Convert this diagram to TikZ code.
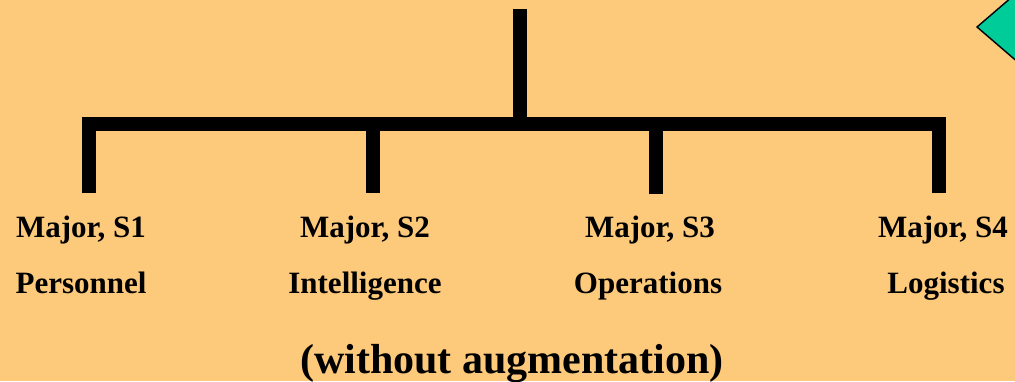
\documentclass[tikz,border=0pt]{standalone}
\usepackage{fontspec}
\setmainfont{Liberation Serif}
\newfontfamily\orgfont{Liberation Serif}[BoldFont={Liberation Serif Bold}]
\usepackage{xcolor}
\usetikzlibrary{positioning}
\definecolor{OrgPeach}{RGB}{253,201,122}
\definecolor{OrgGreen}{RGB}{0,204,153}

\begin{document}
\begin{tikzpicture}[x=1pt, y=-1pt,
          lbl/.style={anchor=base, inner sep=0pt,
                      font=\orgfont\fontsize{31}{37}\selectfont\bfseries},
          ln/.style={draw=black, line width=14pt, line cap=butt,
                     line join=miter}
        ]
        % background
        \fill[OrgPeach] (0,0) rectangle (1015,381);
        \useasboundingbox (0,0) rectangle (1015,381);

        % corner marker
        \begin{scope}
          \clip (0,0) rectangle (1015,381);
          \draw[fill=OrgGreen, line width=1.4pt]
                (977,27) -- (1027,-16) -- (1077,27) -- (1027,70) -- cycle;
        \end{scope}

        % staff officers
        \node[lbl] (s1)  at (81, 237)  {Major, S1};
        \node[lbl] (p1)  at (81, 293)  {Personnel};
        \node[lbl] (s2)  at (365, 237) {Major, S2};
        \node[lbl] (p2)  at (365, 293) {Intelligence};
        \node[lbl] (s3)  at (650, 237) {Major, S3};
        \node[lbl] (p3)  at (648, 293) {Operations};
        \node[lbl] (s4)  at (943, 237) {Major, S4};
        \node[lbl] (p4)  at (946, 293) {Logistics};

        % tree
        \coordinate (top) at (519.5, 9);
        \coordinate (hub) at (519.5, 124);
        \coordinate (d1) at (88.5, 193);
        \coordinate (d2) at (372.5, 193);
        \coordinate (d3) at (655.5, 194);
        \coordinate (d4) at (939, 193);
        \draw[ln] (top) -- (hub);
        \draw[ln] (d1) |- (hub) -| (d4);
        \draw[ln] (d2) -- (d2 |- hub);
        \draw[ln] (d3) -- (d3 |- hub);

        \node[anchor=base, inner sep=0pt,
              font=\orgfont\fontsize{42}{50}\selectfont\bfseries]
              (note) at (512, 373) {(without augmentation)};
      \end{tikzpicture}
\end{document}
